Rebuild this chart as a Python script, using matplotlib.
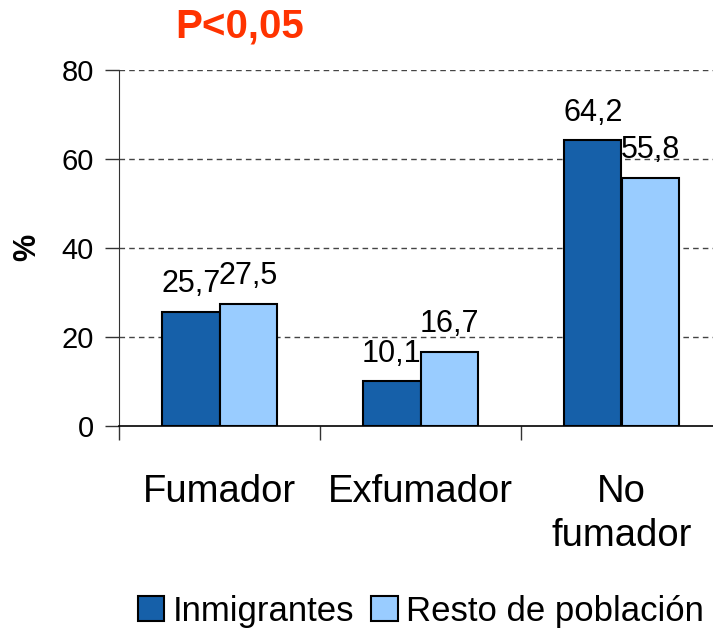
import matplotlib
matplotlib.use("Agg")
import matplotlib.pyplot as plt
from matplotlib.patches import Patch
import numpy as np

plt.rcParams['font.family'] = ['Liberation Sans', 'DejaVu Sans']

categories = ["Fumador", "Exfumador", "No\nfumador"]
inmigrantes = [25.7, 10.1, 64.2]
resto = [27.5, 16.7, 55.8]
series_names = ["Inmigrantes", "Resto de población"]
yticks = [0, 20, 40, 60, 80]

dark = "#1660A9"
light = "#99CCFF"

fig = plt.figure(figsize=(7.13, 6.34), dpi=100)
ax = fig.add_axes([119/713, (634-426)/634, (722-119)/713, (426-70)/634])

x = np.arange(len(categories))
w = 0.285
b1 = ax.bar(x - w/2, inmigrantes, w, color=dark, edgecolor="black", linewidth=1.5, zorder=3)
b2 = ax.bar(x + w/2, resto, w, color=light, edgecolor="black", linewidth=1.5, zorder=3)

def fmt(v):
    return f"{v:.1f}".replace(".", ",")

for bars, vals in ((b1, inmigrantes), (b2, resto)):
    for r, v in zip(bars, vals):
        ax.annotate(fmt(v), (r.get_x() + r.get_width()/2, v), xytext=(0, 14),
                    textcoords="offset points", ha="center", va="baseline", fontsize=22,
                    zorder=4)

ax.set_xlim(-0.5, 2.5)
ax.set_ylim(0, 80)
ax.set_yticks(yticks)
ax.set_yticklabels([str(t) for t in yticks], fontsize=21)
for t in yticks[1:]:
    ax.axhline(t, color="#444444", linestyle=(0, (4, 3)), linewidth=1, zorder=1)

ax.set_xticks([-0.5, 0.5, 1.5, 2.5])
ax.set_xticklabels([])
ax.tick_params(axis="x", direction="out", length=10, width=1, color="#333333")
ax.tick_params(axis="y", direction="out", length=10, width=1, color="#333333", pad=8)
for i, c in enumerate(categories):
    ax.text(x[i], -10.8, c, ha="center", va="top", fontsize=27.5, linespacing=1.28,
            transform=ax.transData)

for s in ["top", "right"]:
    ax.spines[s].set_visible(False)
ax.spines["left"].set_color("#333333")
ax.spines["bottom"].set_color("black")
ax.spines["bottom"].set_linewidth(1.2)

fig.text(27/713, 1 - 247/634, "%", fontsize=22, fontweight="bold", rotation=90,
         ha="center", va="center")

fig.text(240/713, 1 - 27/634, "P<0,05", color="#FF3300", fontsize=29, fontweight="bold",
         ha="center", va="center")

handles = [Patch(facecolor=dark, edgecolor="black", linewidth=1.5),
           Patch(facecolor=light, edgecolor="black", linewidth=1.5)]
fig.legend(handles, series_names, loc="center", bbox_to_anchor=(421/713, 1 - 611/634),
           ncol=2, frameon=False, fontsize=25, handlelength=0.75, handleheight=0.75,
           handletextpad=0.25, columnspacing=0.5, borderpad=0)

fig.savefig("out.png", dpi=100)
